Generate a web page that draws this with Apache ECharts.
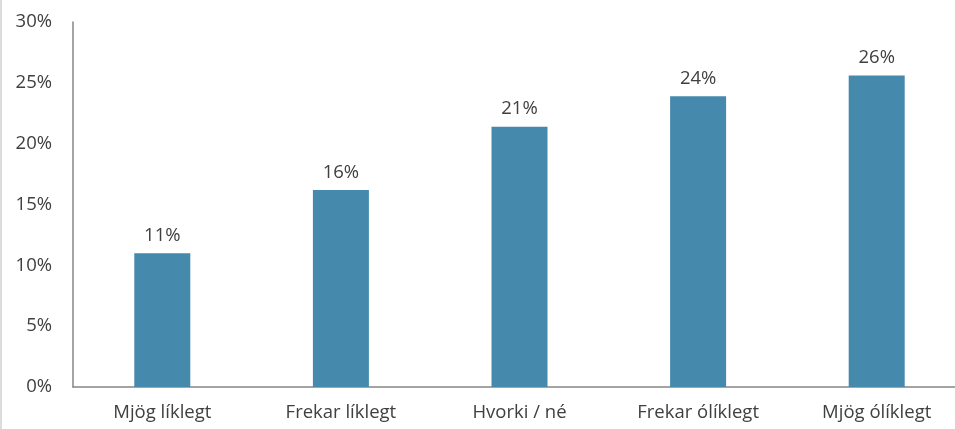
<!DOCTYPE html>
<html>
<head>
<meta charset="utf-8">
<script src="https://cdn.jsdelivr.net/npm/echarts@6/dist/echarts.min.js"></script>
<style>
  html, body { margin: 0; padding: 0; background: #fff; overflow: hidden; }
  /* the plot runs slightly past the right edge of the page */
  #chart { width: 966px; height: 429px; }
</style>
</head>
<body>
<div id="chart"></div>
<script>
// Response categories and their shares (percent)
const categories = ['Mjög líklegt', 'Frekar líklegt', 'Hvorki / né', 'Frekar ólíklegt', 'Mjög ólíklegt'];
const shares = [11.0, 16.2, 21.4, 23.9, 25.6];
const yTicks = { min: 0, max: 30, step: 5 };

const font = 'Open Sans, Noto Sans, sans-serif';
const textColor = '#404040';
const fontSize = 18.5;

const chart = echarts.init(document.getElementById('chart'), null, { renderer: 'canvas' });
chart.setOption({
  animation: false,
  backgroundColor: '#ffffff',
  graphic: [{
    type: 'rect',
    left: 0, top: 0,
    shape: { width: 2, height: 429 },
    style: { fill: '#dcdcdc' }
  }],
  grid: { left: 73, top: 22, right: 0, bottom: 42, containLabel: false },
  xAxis: {
    type: 'category',
    data: categories,
    axisLine: { show: true, lineStyle: { color: '#868686', width: 1.5 } },
    axisTick: { show: false },
    axisLabel: { color: textColor, fontSize: fontSize, fontFamily: font, margin: 16 }
  },
  yAxis: {
    type: 'value',
    min: yTicks.min, max: yTicks.max, interval: yTicks.step,
    splitLine: { show: false },
    axisLine: { show: true, lineStyle: { color: '#868686', width: 1.5 } },
    axisTick: { show: false },
    axisLabel: { color: textColor, fontSize: fontSize, fontFamily: font, margin: 21,
      formatter: v => v + '%' }
  },
  series: [{
    type: 'bar',
    data: shares,
    barWidth: 56,
    itemStyle: { color: '#4589ad' },
    label: {
      show: true, position: 'top', distance: 8,
      color: textColor, fontSize: fontSize, fontFamily: font,
      formatter: p => Math.round(p.value) + '%'
    }
  }]
});
</script>
</body>
</html>
